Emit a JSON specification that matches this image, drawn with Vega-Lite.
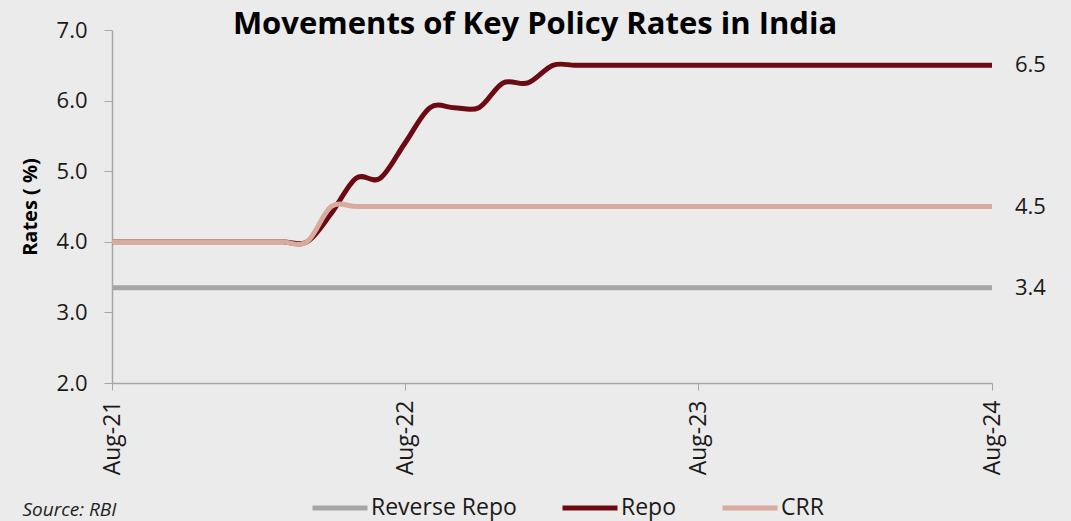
{
  "$schema": "https://vega.github.io/schema/vega-lite/v6.json",
  "width": 880,
  "height": 353,
  "autosize": {"type": "none"},
  "padding": {"left": 112, "top": 30, "right": 79, "bottom": 138},
  "background": "#ebebeb",
  "title": {
    "text": "Movements of Key Policy Rates in India",
    "font": "Open Sans",
    "fontWeight": "bold",
    "fontSize": 31,
    "color": "#000000",
    "anchor": "middle",
    "baseline": "alphabetic",
    "offset": -6,
    "dx": -17,
    "dy": 40
  },
  "config": {
    "view": {"stroke": null},
    "font": "Open Sans"
  },
  "datasets": {
    "rates": [
      {"date": "2021-08-01", "series": "Reverse Repo", "rate": 3.35},
      {"date": "2021-09-01", "series": "Reverse Repo", "rate": 3.35},
      {"date": "2021-10-01", "series": "Reverse Repo", "rate": 3.35},
      {"date": "2021-11-01", "series": "Reverse Repo", "rate": 3.35},
      {"date": "2021-12-01", "series": "Reverse Repo", "rate": 3.35},
      {"date": "2022-01-01", "series": "Reverse Repo", "rate": 3.35},
      {"date": "2022-02-01", "series": "Reverse Repo", "rate": 3.35},
      {"date": "2022-03-01", "series": "Reverse Repo", "rate": 3.35},
      {"date": "2022-04-01", "series": "Reverse Repo", "rate": 3.35},
      {"date": "2022-05-01", "series": "Reverse Repo", "rate": 3.35},
      {"date": "2022-06-01", "series": "Reverse Repo", "rate": 3.35},
      {"date": "2022-07-01", "series": "Reverse Repo", "rate": 3.35},
      {"date": "2022-08-01", "series": "Reverse Repo", "rate": 3.35},
      {"date": "2022-09-01", "series": "Reverse Repo", "rate": 3.35},
      {"date": "2022-10-01", "series": "Reverse Repo", "rate": 3.35},
      {"date": "2022-11-01", "series": "Reverse Repo", "rate": 3.35},
      {"date": "2022-12-01", "series": "Reverse Repo", "rate": 3.35},
      {"date": "2023-01-01", "series": "Reverse Repo", "rate": 3.35},
      {"date": "2023-02-01", "series": "Reverse Repo", "rate": 3.35},
      {"date": "2023-03-01", "series": "Reverse Repo", "rate": 3.35},
      {"date": "2023-04-01", "series": "Reverse Repo", "rate": 3.35},
      {"date": "2023-05-01", "series": "Reverse Repo", "rate": 3.35},
      {"date": "2023-06-01", "series": "Reverse Repo", "rate": 3.35},
      {"date": "2023-07-01", "series": "Reverse Repo", "rate": 3.35},
      {"date": "2023-08-01", "series": "Reverse Repo", "rate": 3.35},
      {"date": "2023-09-01", "series": "Reverse Repo", "rate": 3.35},
      {"date": "2023-10-01", "series": "Reverse Repo", "rate": 3.35},
      {"date": "2023-11-01", "series": "Reverse Repo", "rate": 3.35},
      {"date": "2023-12-01", "series": "Reverse Repo", "rate": 3.35},
      {"date": "2024-01-01", "series": "Reverse Repo", "rate": 3.35},
      {"date": "2024-02-01", "series": "Reverse Repo", "rate": 3.35},
      {"date": "2024-03-01", "series": "Reverse Repo", "rate": 3.35},
      {"date": "2024-04-01", "series": "Reverse Repo", "rate": 3.35},
      {"date": "2024-05-01", "series": "Reverse Repo", "rate": 3.35},
      {"date": "2024-06-01", "series": "Reverse Repo", "rate": 3.35},
      {"date": "2024-07-01", "series": "Reverse Repo", "rate": 3.35},
      {"date": "2024-08-01", "series": "Reverse Repo", "rate": 3.35},
      {"date": "2021-08-01", "series": "Repo", "rate": 4.0},
      {"date": "2021-09-01", "series": "Repo", "rate": 4.0},
      {"date": "2021-10-01", "series": "Repo", "rate": 4.0},
      {"date": "2021-11-01", "series": "Repo", "rate": 4.0},
      {"date": "2021-12-01", "series": "Repo", "rate": 4.0},
      {"date": "2022-01-01", "series": "Repo", "rate": 4.0},
      {"date": "2022-02-01", "series": "Repo", "rate": 4.0},
      {"date": "2022-03-01", "series": "Repo", "rate": 4.0},
      {"date": "2022-04-01", "series": "Repo", "rate": 4.0},
      {"date": "2022-05-01", "series": "Repo", "rate": 4.4},
      {"date": "2022-06-01", "series": "Repo", "rate": 4.9},
      {"date": "2022-07-01", "series": "Repo", "rate": 4.9},
      {"date": "2022-08-01", "series": "Repo", "rate": 5.4},
      {"date": "2022-09-01", "series": "Repo", "rate": 5.9},
      {"date": "2022-10-01", "series": "Repo", "rate": 5.9},
      {"date": "2022-11-01", "series": "Repo", "rate": 5.9},
      {"date": "2022-12-01", "series": "Repo", "rate": 6.25},
      {"date": "2023-01-01", "series": "Repo", "rate": 6.25},
      {"date": "2023-02-01", "series": "Repo", "rate": 6.5},
      {"date": "2023-03-01", "series": "Repo", "rate": 6.5},
      {"date": "2023-04-01", "series": "Repo", "rate": 6.5},
      {"date": "2023-05-01", "series": "Repo", "rate": 6.5},
      {"date": "2023-06-01", "series": "Repo", "rate": 6.5},
      {"date": "2023-07-01", "series": "Repo", "rate": 6.5},
      {"date": "2023-08-01", "series": "Repo", "rate": 6.5},
      {"date": "2023-09-01", "series": "Repo", "rate": 6.5},
      {"date": "2023-10-01", "series": "Repo", "rate": 6.5},
      {"date": "2023-11-01", "series": "Repo", "rate": 6.5},
      {"date": "2023-12-01", "series": "Repo", "rate": 6.5},
      {"date": "2024-01-01", "series": "Repo", "rate": 6.5},
      {"date": "2024-02-01", "series": "Repo", "rate": 6.5},
      {"date": "2024-03-01", "series": "Repo", "rate": 6.5},
      {"date": "2024-04-01", "series": "Repo", "rate": 6.5},
      {"date": "2024-05-01", "series": "Repo", "rate": 6.5},
      {"date": "2024-06-01", "series": "Repo", "rate": 6.5},
      {"date": "2024-07-01", "series": "Repo", "rate": 6.5},
      {"date": "2024-08-01", "series": "Repo", "rate": 6.5},
      {"date": "2021-08-01", "series": "CRR", "rate": 4.0},
      {"date": "2021-09-01", "series": "CRR", "rate": 4.0},
      {"date": "2021-10-01", "series": "CRR", "rate": 4.0},
      {"date": "2021-11-01", "series": "CRR", "rate": 4.0},
      {"date": "2021-12-01", "series": "CRR", "rate": 4.0},
      {"date": "2022-01-01", "series": "CRR", "rate": 4.0},
      {"date": "2022-02-01", "series": "CRR", "rate": 4.0},
      {"date": "2022-03-01", "series": "CRR", "rate": 4.0},
      {"date": "2022-04-01", "series": "CRR", "rate": 4.0},
      {"date": "2022-05-01", "series": "CRR", "rate": 4.5},
      {"date": "2022-06-01", "series": "CRR", "rate": 4.5},
      {"date": "2022-07-01", "series": "CRR", "rate": 4.5},
      {"date": "2022-08-01", "series": "CRR", "rate": 4.5},
      {"date": "2022-09-01", "series": "CRR", "rate": 4.5},
      {"date": "2022-10-01", "series": "CRR", "rate": 4.5},
      {"date": "2022-11-01", "series": "CRR", "rate": 4.5},
      {"date": "2022-12-01", "series": "CRR", "rate": 4.5},
      {"date": "2023-01-01", "series": "CRR", "rate": 4.5},
      {"date": "2023-02-01", "series": "CRR", "rate": 4.5},
      {"date": "2023-03-01", "series": "CRR", "rate": 4.5},
      {"date": "2023-04-01", "series": "CRR", "rate": 4.5},
      {"date": "2023-05-01", "series": "CRR", "rate": 4.5},
      {"date": "2023-06-01", "series": "CRR", "rate": 4.5},
      {"date": "2023-07-01", "series": "CRR", "rate": 4.5},
      {"date": "2023-08-01", "series": "CRR", "rate": 4.5},
      {"date": "2023-09-01", "series": "CRR", "rate": 4.5},
      {"date": "2023-10-01", "series": "CRR", "rate": 4.5},
      {"date": "2023-11-01", "series": "CRR", "rate": 4.5},
      {"date": "2023-12-01", "series": "CRR", "rate": 4.5},
      {"date": "2024-01-01", "series": "CRR", "rate": 4.5},
      {"date": "2024-02-01", "series": "CRR", "rate": 4.5},
      {"date": "2024-03-01", "series": "CRR", "rate": 4.5},
      {"date": "2024-04-01", "series": "CRR", "rate": 4.5},
      {"date": "2024-05-01", "series": "CRR", "rate": 4.5},
      {"date": "2024-06-01", "series": "CRR", "rate": 4.5},
      {"date": "2024-07-01", "series": "CRR", "rate": 4.5},
      {"date": "2024-08-01", "series": "CRR", "rate": 4.5}
    ],
    "endLabels": [
      {"date": "2024-08-01", "series": "Repo", "rate": 6.5, "label": "6.5"},
      {"date": "2024-08-01", "series": "CRR", "rate": 4.5, "label": "4.5"},
      {"date": "2024-08-01", "series": "Reverse Repo", "rate": 3.35, "label": "3.4"}
    ]
  },
  "encoding": {
    "x": {
      "field": "date",
      "type": "temporal",
      "scale": {
        "type": "utc",
        "domain": [
          {"year": 2021, "month": 8, "date": 1, "utc": true},
          {"year": 2024, "month": 8, "date": 1, "utc": true}
        ]
      },
      "axis": {
        "values": [
          {"year": 2021, "month": 8, "date": 1, "utc": true},
          {"year": 2022, "month": 8, "date": 1, "utc": true},
          {"year": 2023, "month": 8, "date": 1, "utc": true},
          {"year": 2024, "month": 8, "date": 1, "utc": true}
        ],
        "labelExpr": "utcFormat(datum.value, '%b-%y')",
        "labelAngle": 270,
        "labelAlign": "right",
        "labelBaseline": "middle",
        "labelFont": "Open Sans",
        "labelFontSize": 23,
        "labelColor": "#1a1a1a",
        "labelPadding": 10,
        "labelOverlap": false,
        "labelFlush": false,
        "tickSize": 7,
        "tickColor": "#a6a6a6",
        "domainColor": "#a6a6a6",
        "domainWidth": 1.5,
        "grid": false,
        "title": "Source: RBI",
        "titleFont": "Open Sans",
        "titleFontStyle": "italic",
        "titleFontWeight": "normal",
        "titleFontSize": 19,
        "titleColor": "#222222",
        "titleAngle": 0,
        "titleAlign": "left",
        "titleAnchor": "start",
        "titleBaseline": "alphabetic",
        "titleX": -90,
        "titleY": 132
      }
    },
    "y": {
      "field": "rate",
      "type": "quantitative",
      "scale": {"domain": [2, 7], "nice": false, "zero": false},
      "axis": {
        "values": [2, 3, 4, 5, 6, 7],
        "format": ".1f",
        "labelFont": "Open Sans",
        "labelFontSize": 22,
        "labelColor": "#1a1a1a",
        "labelPadding": 17,
        "tickSize": 8,
        "tickColor": "#a6a6a6",
        "domainColor": "#a6a6a6",
        "domainWidth": 1.5,
        "grid": false,
        "title": "Rates ( %)",
        "titleFont": "Open Sans",
        "titleFontWeight": "bold",
        "titleFontSize": 20,
        "titleColor": "#000000",
        "titlePadding": 16
      }
    }
  },
  "layer": [
    {
      "data": {"name": "rates"},
      "mark": {"type": "line", "interpolate": "cardinal", "strokeWidth": 5, "strokeCap": "butt"},
      "encoding": {
        "color": {
          "field": "series",
          "type": "nominal",
          "sort": ["Reverse Repo", "Repo", "CRR"],
          "scale": {
            "domain": ["Reverse Repo", "Repo", "CRR"],
            "range": ["#a6a6a6", "#6b0a12", "#d9aa9e"]
          },
          "legend": {
            "title": null,
            "orient": "none",
            "direction": "horizontal",
            "legendX": 198,
            "legendY": 448,
            "symbolType": "stroke",
            "symbolSize": 3025,
            "symbolStrokeWidth": 5,
            "labelFont": "Open Sans",
            "labelFontSize": 23,
            "labelColor": "#1a1a1a",
            "labelOffset": 1,
            "columnPadding": 35,
            "labelLimit": 300
          }
        }
      }
    },
    {
      "data": {"name": "endLabels"},
      "mark": {
        "type": "text",
        "align": "left",
        "baseline": "middle",
        "dx": 23,
        "font": "Open Sans",
        "fontSize": 22,
        "color": "#1a1a1a"
      },
      "encoding": {
        "text": {"field": "label", "type": "nominal"}
      }
    }
  ]
}
